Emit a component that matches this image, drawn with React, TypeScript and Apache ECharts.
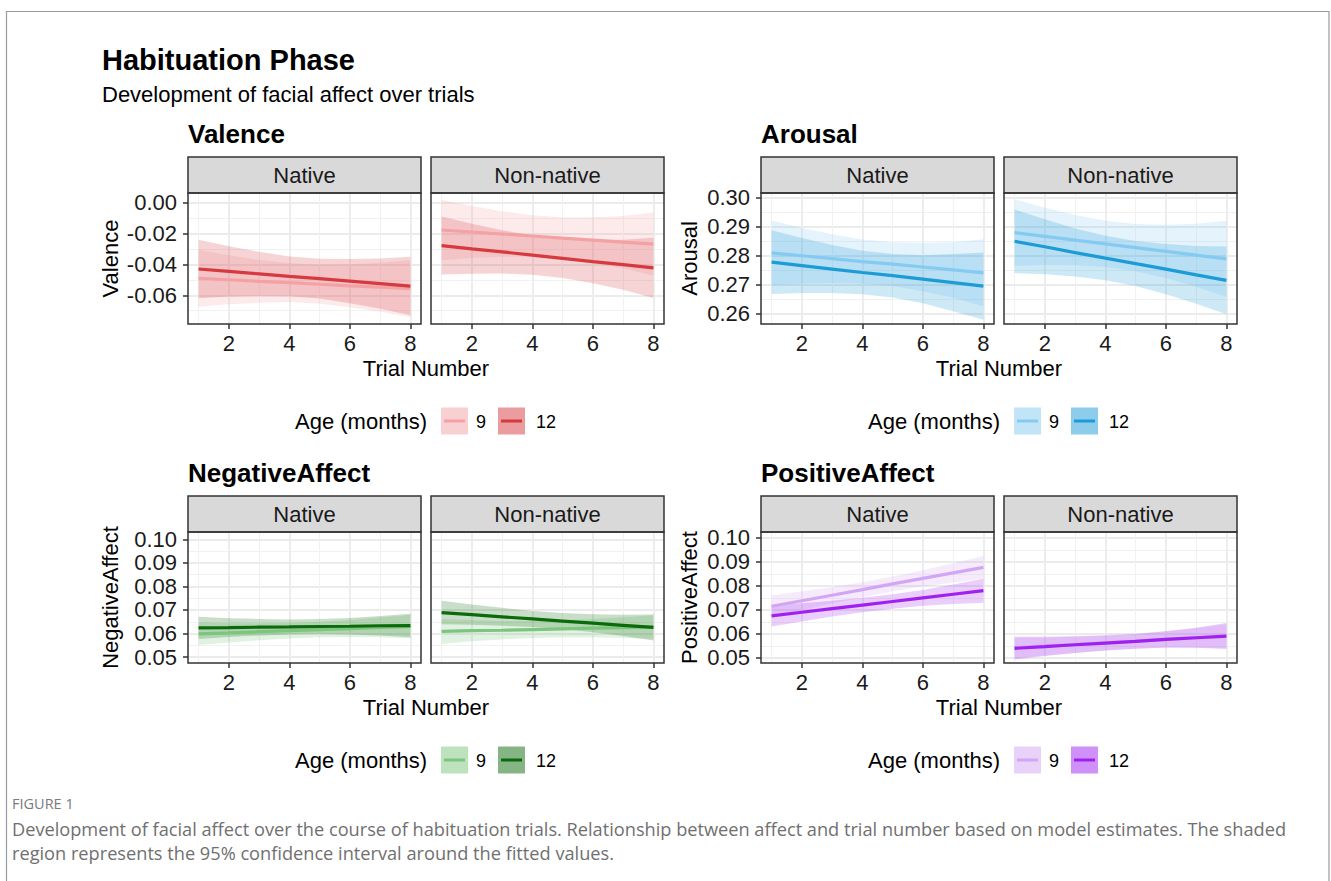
import { useEffect, useRef } from "react";
import * as echarts from "echarts";

// ---------------- data ----------------
const trials = [1, 2, 3, 4, 5, 6, 7, 8];
const xTicks = [2, 4, 6, 8];
const panelNames = ["Native", "Non-native"];
const ageLabels = ["9", "12"];
const legendTitle = "Age (months)";
const xTitle = "Trial Number";
const mainTitle = "Habituation Phase";
const subTitle = "Development of facial affect over trials";
const figLabel = "FIGURE 1";
const captionLines = [
  "Development of facial affect over the course of habituation trials. Relationship between affect and trial number based on model estimates. The shaded",
  "region represents the 95% confidence interval around the fitted values.",
];

// Valence
const valenceTicks = [-0.06, -0.04, -0.02, 0.0];
const valNat9Fit = [-0.0489, -0.0499, -0.0509, -0.0518, -0.0528, -0.0538, -0.0547, -0.0557];
const valNat9Lo = [-0.0674, -0.0658, -0.0648, -0.0644, -0.0654, -0.0677, -0.0706, -0.0742];
const valNat9Hi = [-0.0304, -0.034, -0.037, -0.0392, -0.0402, -0.0399, -0.0388, -0.0372];
const valNat12Fit = [-0.0429, -0.0445, -0.0461, -0.0477, -0.0492, -0.0508, -0.0524, -0.054];
const valNat12Lo = [-0.0619, -0.0608, -0.0604, -0.0606, -0.0621, -0.0651, -0.0687, -0.073];
const valNat12Hi = [-0.0239, -0.0282, -0.0318, -0.0348, -0.0363, -0.0365, -0.0361, -0.035];
const valNon9Fit = [-0.0176, -0.0189, -0.0202, -0.0215, -0.0229, -0.0242, -0.0255, -0.0268];
const valNon9Lo = [-0.0373, -0.0358, -0.035, -0.0349, -0.0363, -0.039, -0.0424, -0.0473];
const valNon9Hi = [0.0021, -0.002, -0.0054, -0.0081, -0.0095, -0.0094, -0.0086, -0.0063];
const valNon12Fit = [-0.0277, -0.0298, -0.0318, -0.0339, -0.036, -0.0381, -0.0401, -0.0422];
const valNon12Lo = [-0.0465, -0.046, -0.0459, -0.0467, -0.0488, -0.0522, -0.0563, -0.0617];
const valNon12Hi = [-0.0089, -0.0136, -0.0177, -0.0211, -0.0232, -0.024, -0.0239, -0.0227];

// Arousal
const arousalTicks = [0.26, 0.27, 0.28, 0.29, 0.3];
const aroNat9Fit = [0.2809, 0.2799, 0.2789, 0.2779, 0.277, 0.276, 0.275, 0.274];
const aroNat9Lo = [0.2697, 0.2703, 0.2705, 0.2703, 0.2694, 0.2676, 0.2654, 0.2624];
const aroNat9Hi = [0.2921, 0.2895, 0.2873, 0.2855, 0.2846, 0.2844, 0.2846, 0.2856];
const aroNat12Fit = [0.2777, 0.2765, 0.2753, 0.2741, 0.273, 0.2718, 0.2706, 0.2694];
const aroNat12Lo = [0.2667, 0.267, 0.267, 0.2666, 0.2655, 0.2635, 0.2607, 0.2578];
const aroNat12Hi = [0.2887, 0.286, 0.2836, 0.2816, 0.2805, 0.2801, 0.2805, 0.281];
const aroNon9Fit = [0.2879, 0.2866, 0.2853, 0.284, 0.2827, 0.2814, 0.2801, 0.2788];
const aroNon9Lo = [0.2764, 0.2767, 0.2766, 0.276, 0.2745, 0.2722, 0.2692, 0.2656];
const aroNon9Hi = [0.2994, 0.2965, 0.294, 0.292, 0.2909, 0.2906, 0.291, 0.292];
const aroNon12Fit = [0.2849, 0.283, 0.281, 0.2791, 0.2772, 0.2753, 0.2733, 0.2714];
const aroNon12Lo = [0.2739, 0.2735, 0.2727, 0.2714, 0.2694, 0.2666, 0.2633, 0.2597];
const aroNon12Hi = [0.2959, 0.2925, 0.2893, 0.2868, 0.285, 0.284, 0.2833, 0.2831];

// NegativeAffect
const negTicks = [0.05, 0.06, 0.07, 0.08, 0.09, 0.1];
const negNat9Fit = [0.0599, 0.0603, 0.0608, 0.0612, 0.0617, 0.0621, 0.0626, 0.063];
const negNat9Lo = [0.0551, 0.0562, 0.0572, 0.0579, 0.0584, 0.0585, 0.0584, 0.058];
const negNat9Hi = [0.0647, 0.0644, 0.0644, 0.0645, 0.065, 0.0657, 0.0668, 0.068];
const negNat12Fit = [0.0624, 0.0625, 0.0627, 0.0628, 0.063, 0.0631, 0.0633, 0.0634];
const negNat12Lo = [0.0577, 0.0585, 0.0592, 0.0596, 0.0598, 0.0596, 0.0592, 0.0584];
const negNat12Hi = [0.0671, 0.0665, 0.0662, 0.066, 0.0662, 0.0666, 0.0674, 0.0684];
const negNon9Fit = [0.0609, 0.0612, 0.0614, 0.0617, 0.062, 0.0623, 0.0625, 0.0628];
const negNon9Lo = [0.0556, 0.0567, 0.0575, 0.0581, 0.0584, 0.0584, 0.0581, 0.0578];
const negNon9Hi = [0.0662, 0.0657, 0.0653, 0.0653, 0.0656, 0.0662, 0.0669, 0.0678];
const negNon12Fit = [0.0689, 0.068, 0.0671, 0.0662, 0.0653, 0.0644, 0.0635, 0.0626];
const negNon12Lo = [0.0639, 0.0637, 0.0633, 0.0628, 0.0619, 0.0606, 0.059, 0.0571];
const negNon12Hi = [0.0739, 0.0723, 0.0709, 0.0696, 0.0687, 0.0682, 0.068, 0.0681];

// PositiveAffect
const posTicks = [0.05, 0.06, 0.07, 0.08, 0.09, 0.1];
const posNat9Fit = [0.0715, 0.0738, 0.0761, 0.0784, 0.0808, 0.0831, 0.0854, 0.0877];
const posNat9Lo = [0.067, 0.0699, 0.0727, 0.0753, 0.0777, 0.0797, 0.0814, 0.083];
const posNat9Hi = [0.076, 0.0777, 0.0795, 0.0815, 0.0839, 0.0865, 0.0894, 0.0924];
const posNat12Fit = [0.0675, 0.069, 0.0705, 0.072, 0.0735, 0.075, 0.0765, 0.078];
const posNat12Lo = [0.0631, 0.0652, 0.0672, 0.069, 0.0705, 0.0717, 0.0724, 0.073];
const posNat12Hi = [0.0719, 0.0728, 0.0738, 0.075, 0.0765, 0.0783, 0.0806, 0.083];
const posNon9Fit = [0.0543, 0.055, 0.0556, 0.0563, 0.057, 0.0577, 0.0583, 0.059];
const posNon9Lo = [0.0496, 0.051, 0.0521, 0.0531, 0.0538, 0.0542, 0.0542, 0.054];
const posNon9Hi = [0.059, 0.059, 0.0591, 0.0595, 0.0602, 0.0612, 0.0624, 0.064];
const posNon12Fit = [0.054, 0.0547, 0.0555, 0.0562, 0.0569, 0.0577, 0.0584, 0.0591];
const posNon12Lo = [0.0494, 0.0508, 0.0521, 0.0531, 0.0538, 0.0543, 0.0542, 0.0537];
const posNon12Hi = [0.0586, 0.0586, 0.0589, 0.0593, 0.06, 0.0611, 0.0626, 0.0645];

// ---------------- styling / layout ----------------
const FONT = "'Liberation Sans', Arial, Helvetica, sans-serif";
const CAP_FONT = "'Open Sans', 'Noto Sans', sans-serif";
const TXT = "#1a1a1a";
const RIBBON_ALPHA = 0.22;
const KEY_ALPHA = 0.5;

const facets = [
  {
    name: "Valence", ticks: valenceTicks, yMin: -0.0786, yMax: 0.0064,
    colors: ["#F4A1A4", "#D63A3F"], col: 0, row: 0,
    panels: [
      [{ fit: valNat9Fit, lo: valNat9Lo, hi: valNat9Hi }, { fit: valNat12Fit, lo: valNat12Lo, hi: valNat12Hi }],
      [{ fit: valNon9Fit, lo: valNon9Lo, hi: valNon9Hi }, { fit: valNon12Fit, lo: valNon12Lo, hi: valNon12Hi }],
    ],
  },
  {
    name: "Arousal", ticks: arousalTicks, yMin: 0.2563, yMax: 0.3016,
    colors: ["#85CAF0", "#1B9CD7"], col: 1, row: 0,
    panels: [
      [{ fit: aroNat9Fit, lo: aroNat9Lo, hi: aroNat9Hi }, { fit: aroNat12Fit, lo: aroNat12Lo, hi: aroNat12Hi }],
      [{ fit: aroNon9Fit, lo: aroNon9Lo, hi: aroNon9Hi }, { fit: aroNon12Fit, lo: aroNon12Lo, hi: aroNon12Hi }],
    ],
  },
  {
    name: "NegativeAffect", ticks: negTicks, yMin: 0.0475, yMax: 0.1031,
    colors: ["#7CC57C", "#0B6B0B"], col: 0, row: 1,
    panels: [
      [{ fit: negNat9Fit, lo: negNat9Lo, hi: negNat9Hi }, { fit: negNat12Fit, lo: negNat12Lo, hi: negNat12Hi }],
      [{ fit: negNon9Fit, lo: negNon9Lo, hi: negNon9Hi }, { fit: negNon12Fit, lo: negNon12Lo, hi: negNon12Hi }],
    ],
  },
  {
    name: "PositiveAffect", ticks: posTicks, yMin: 0.0479, yMax: 0.1024,
    colors: ["#D3A6F5", "#A021EF"], col: 1, row: 1,
    panels: [
      [{ fit: posNat9Fit, lo: posNat9Lo, hi: posNat9Hi }, { fit: posNat12Fit, lo: posNat12Lo, hi: posNat12Hi }],
      [{ fit: posNon9Fit, lo: posNon9Lo, hi: posNon9Hi }, { fit: posNon12Fit, lo: posNon12Lo, hi: posNon12Hi }],
    ],
  },
];

const COL_LEFT = [188, 761];
const PANEL_W = 233;
const PANEL_GAP = 10;
const ROW_TOP = [193, 532];
const PANEL_H = 131;
const STRIP_H = 36;
const Y_TITLE_X = [110, 689];

function hexA(hex: string, a: number) {
  const r = parseInt(hex.slice(1, 3), 16);
  const g = parseInt(hex.slice(3, 5), 16);
  const b = parseInt(hex.slice(5, 7), 16);
  return `rgba(${r},${g},${b},${a})`;
}

function buildOption() {
  const grid: any[] = [];
  const xAxis: any[] = [];
  const yAxis: any[] = [];
  const series: any[] = [];
  const graphic: any[] = [];

  // Figure frame
  graphic.push({
    type: "rect", shape: { x: 6.5, y: 11.5, width: 1322.5, height: 900 },
    style: { fill: "none", stroke: "#9b9b9b", lineWidth: 1.2 }, z: 0, silent: true,
  });
  graphic.push({
    type: "text", x: 102, y: 60,
    style: { text: mainTitle, fontSize: 29, fontWeight: "bold", fontFamily: FONT, fill: "#000", align: "left", verticalAlign: "middle" },
  });
  graphic.push({
    type: "text", x: 102, y: 94,
    style: { text: subTitle, fontSize: 22, fontFamily: FONT, fill: "#000", align: "left", verticalAlign: "middle" },
  });

  facets.forEach((f, fi) => {
    const left0 = COL_LEFT[f.col];
    const top = ROW_TOP[f.row];
    const centerX = left0 + PANEL_W + PANEL_GAP / 2;
    const rowOff = f.row * 339;

    graphic.push({
      type: "text", x: left0, y: 134 + rowOff,
      style: { text: f.name, fontSize: 26, fontWeight: "bold", fontFamily: FONT, fill: "#000", align: "left", verticalAlign: "middle" },
    });
    graphic.push({
      type: "text", x: Y_TITLE_X[f.col], y: top + PANEL_H / 2, rotation: Math.PI / 2,
      style: { text: f.name, fontSize: 22, fontFamily: FONT, fill: "#000", align: "center", verticalAlign: "middle" },
    });
    graphic.push({
      type: "text", x: centerX, y: 368 + rowOff,
      style: { text: xTitle, fontSize: 22, fontFamily: FONT, fill: "#000", align: "center", verticalAlign: "middle" },
    });

    // legend
    const ly = 421.5 + rowOff;
    graphic.push({
      type: "text", x: centerX - 131, y: ly,
      style: { text: legendTitle, fontSize: 22, fontFamily: FONT, fill: "#000", align: "left", verticalAlign: "middle" },
    });
    const keyX = [centerX + 15, centerX + 72];
    const labX = [centerX + 50, centerX + 110];
    ageLabels.forEach((lab, ai) => {
      graphic.push({
        type: "rect", shape: { x: keyX[ai], y: ly - 14, width: 27, height: 27 },
        style: { fill: hexA(f.colors[ai], KEY_ALPHA), stroke: "none" }, silent: true,
      });
      graphic.push({
        type: "line", shape: { x1: keyX[ai] + 3, y1: ly - 0.5, x2: keyX[ai] + 24, y2: ly - 0.5 },
        style: { stroke: f.colors[ai], lineWidth: 3 }, silent: true,
      });
      graphic.push({
        type: "text", x: labX[ai], y: ly,
        style: { text: lab, fontSize: 18, fontFamily: FONT, fill: "#000", align: "left", verticalAlign: "middle" },
      });
    });

    f.panels.forEach((groups, pi) => {
      const gi = fi * 2 + pi;
      const left = left0 + pi * (PANEL_W + PANEL_GAP);
      grid.push({ left, top, width: PANEL_W, height: PANEL_H, show: false, containLabel: false });

      graphic.push({
        type: "rect", shape: { x: left, y: top - STRIP_H, width: PANEL_W, height: STRIP_H },
        style: { fill: "#D9D9D9", stroke: "#333333", lineWidth: 1.5 }, z: 50, silent: true,
      });
      graphic.push({
        type: "text", x: left + PANEL_W / 2, y: top - STRIP_H / 2, z: 51,
        style: { text: panelNames[pi], fontSize: 22, fontFamily: FONT, fill: TXT, align: "center", verticalAlign: "middle" },
      });
      graphic.push({
        type: "rect", shape: { x: left, y: top, width: PANEL_W, height: PANEL_H },
        style: { fill: "none", stroke: "#333333", lineWidth: 1.5 }, z: 100, silent: true,
      });

      xAxis.push({
        gridIndex: gi, type: "value", min: 0.65, max: 8.35, splitNumber: 4,
        axisLine: { show: false, onZero: false },
        axisTick: { show: true, customValues: xTicks, length: 5, lineStyle: { color: "#333", width: 1.5 } },
        axisLabel: {
          show: true, customValues: xTicks, fontSize: 22, fontFamily: FONT, color: TXT, margin: 8,
          formatter: (v: number) => (xTicks.some((t) => Math.abs(t - v) < 1e-9) ? String(v) : ""),
        },
        splitLine: { show: true, lineStyle: { color: "#EBEBEB", width: 1.8 } },
        minorTick: { show: false, splitNumber: 2 },
        minorSplitLine: { show: true, lineStyle: { color: "#F1F1F1", width: 1 } },
      });
      yAxis.push({
        gridIndex: gi, type: "value", min: f.yMin, max: f.yMax,
        axisLine: { show: false, onZero: false },
        axisTick: { show: pi === 0, customValues: f.ticks, length: 5, lineStyle: { color: "#333", width: 1.5 } },
        axisLabel: {
          show: pi === 0, customValues: f.ticks, fontSize: 22, fontFamily: FONT, color: TXT, margin: 11,
          formatter: (v: number) => (f.ticks.some((t) => Math.abs(t - v) < 1e-9) ? v.toFixed(2) : ""),
        },
        splitLine: { show: true, lineStyle: { color: "#EBEBEB", width: 1.8 } },
        minorTick: { show: false, splitNumber: 2 },
        minorSplitLine: { show: true, lineStyle: { color: "#F1F1F1", width: 1 } },
      });

      // confidence ribbons as polygons through the axis scales
      groups.forEach((g, ai) => {
        const fill = hexA(f.colors[ai], RIBBON_ALPHA);
        series.push({
          type: "custom", coordinateSystem: "cartesian2d", xAxisIndex: gi, yAxisIndex: gi,
          data: trials.map((t, i) => [t, g.lo[i], g.hi[i]]),
          encode: { x: 0, y: [1, 2] },
          silent: true, z: 2,
          renderItem: (params: any, api: any) => {
            if (params.dataIndex !== 0) return null;
            const upper = trials.map((t, i) => api.coord([t, g.hi[i]]));
            const lower = trials.map((t, i) => api.coord([t, g.lo[i]])).reverse();
            return {
              type: "polygon",
              shape: { points: upper.concat(lower) },
              style: { fill, stroke: "none" },
            };
          },
        });
      });
      groups.forEach((g, ai) => {
        series.push({
          type: "line", xAxisIndex: gi, yAxisIndex: gi,
          data: trials.map((t, i) => [t, g.fit[i]]), symbol: "none",
          lineStyle: { color: f.colors[ai], width: 3.2 }, silent: true, z: 3 + ai,
        });
      });
    });
  });

  // caption
  graphic.push({
    type: "text", x: 12, y: 803,
    style: { text: figLabel, fontSize: 14.5, fontFamily: CAP_FONT, fill: "#7a7a7a", align: "left", verticalAlign: "middle" },
  });
  captionLines.forEach((line, i) => {
    graphic.push({
      type: "text", x: 12, y: 829 + i * 24,
      style: { text: line, fontSize: 18.2, fontFamily: CAP_FONT, fill: "#707070", align: "left", verticalAlign: "middle" },
    });
  });

  return {
    animation: false,
    backgroundColor: "#ffffff",
    grid, xAxis, yAxis, series, graphic,
  };
}

export default function App() {
  const ref = useRef<HTMLDivElement>(null);
  useEffect(() => {
    document.body.style.margin = "0";
    if (!ref.current) return;
    const chart = echarts.init(ref.current, undefined, { renderer: "svg", width: 1331, height: 881 });
    chart.setOption(buildOption() as any);
    return () => chart.dispose();
  }, []);
  return <div ref={ref} style={{ width: 1331, height: 881 }} />;
}
